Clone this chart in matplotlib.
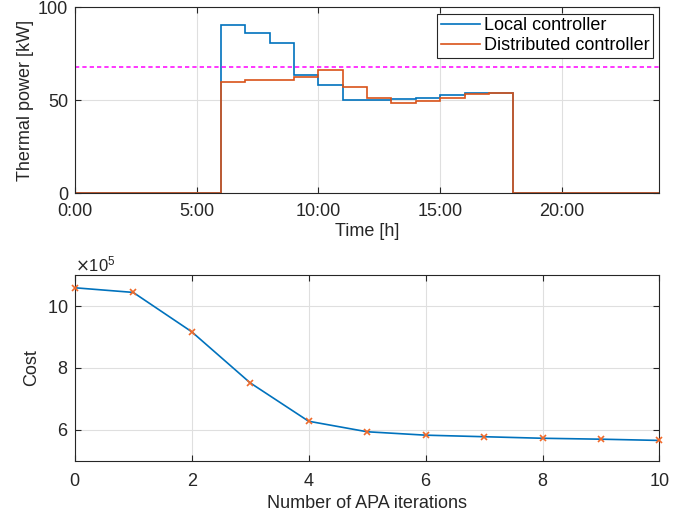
import numpy as np
import matplotlib.pyplot as plt
from matplotlib.ticker import ScalarFormatter

plt.rcParams['font.family'] = ['Liberation Sans', 'DejaVu Sans']

# hourly thermal power [kW], hours 0..23
hours = np.arange(25)
local_kw = [0, 0, 0, 0, 0, 0, 90.7, 86.4, 80.8, 63.6, 58.4, 50.0,
            50.3, 50.7, 51.4, 53.0, 53.9, 53.9, 0, 0, 0, 0, 0, 0]
distributed_kw = [0, 0, 0, 0, 0, 0, 60.0, 60.6, 61.1, 62.2, 66.3, 57.0,
                  51.2, 48.4, 49.5, 50.9, 53.4, 53.8, 0, 0, 0, 0, 0, 0]
power_limit = 68
time_ticks = [0, 5, 10, 15, 20]
time_labels = ['0:00', '5:00', '10:00', '15:00', '20:00']

# cost per APA iteration
iterations = np.arange(11)
cost = [10.59e5, 10.44e5, 9.17e5, 7.52e5, 6.28e5, 5.94e5,
        5.83e5, 5.78e5, 5.73e5, 5.70e5, 5.66e5]

blue = '#0072BD'
orange = '#D95319'
dark = '#262626'
fs = 13

fig = plt.figure(figsize=(6.92, 5.19), dpi=100)
ax1 = fig.add_axes([0.108, 0.628, 0.845, 0.358])
ax2 = fig.add_axes([0.108, 0.112, 0.845, 0.358])

ax1.stairs(local_kw, hours, color=blue, lw=1.2, label='Local controller')
ax1.stairs(distributed_kw, hours, color=orange, lw=1.2, label='Distributed controller')
ax1.axhline(power_limit, color='#FF00FF', ls='--', lw=1.1, dashes=(2.8, 2))
ax1.set_xlim(0, 24)
ax1.set_ylim(0, 100)
ax1.set_xticks(time_ticks)
ax1.set_xticklabels(time_labels)
ax1.set_yticks([0, 50, 100])
ax1.set_xlabel('Time [h]', fontsize=fs, color=dark, labelpad=2)
ax1.set_ylabel('Thermal power [kW]', fontsize=fs, color=dark, labelpad=3)
leg = ax1.legend(loc='upper right', fontsize=fs, fancybox=False, framealpha=1,
                 edgecolor=dark, borderaxespad=0.35, handlelength=2.2,
                 handletextpad=0.2, borderpad=0.2, labelspacing=0.15)
leg.get_frame().set_linewidth(0.8)
for t in leg.get_texts():
    t.set_color('black')

ax2.plot(iterations, cost, color=blue, lw=1.2)
ax2.plot(iterations, cost, ls='none', marker='x', color='#F06A2A', ms=5, mew=1.2,
         clip_on=False, zorder=3)
ax2.set_xlim(0, 10)
ax2.set_ylim(5e5, 11e5)
ax2.set_yticks([6e5, 8e5, 10e5])
ax2.set_xticks(range(0, 11, 2))
fmt = ScalarFormatter(useMathText=True)
fmt.set_powerlimits((5, 5))
ax2.yaxis.set_major_formatter(fmt)
ax2.yaxis.get_offset_text().set_fontsize(fs - 1)
ax2.yaxis.get_offset_text().set_color(dark)
ax2.set_xlabel('Number of APA iterations', fontsize=fs, color=dark, labelpad=4)
ax2.set_ylabel('Cost', fontsize=fs, color=dark, labelpad=5)

for ax in (ax1, ax2):
    ax.grid(True, color='#DFDFDF', lw=0.8)
    ax.set_axisbelow(True)
    ax.tick_params(direction='in', top=True, right=True, labelsize=fs,
                   colors=dark, length=4)
    ax.tick_params(axis='y', pad=4.8)
    for s in ax.spines.values():
        s.set_color(dark)
        s.set_linewidth(0.8)
ax1.tick_params(axis='x', pad=7)
ax2.tick_params(axis='x', pad=8.5)

fig.savefig('out.png', dpi=100)
